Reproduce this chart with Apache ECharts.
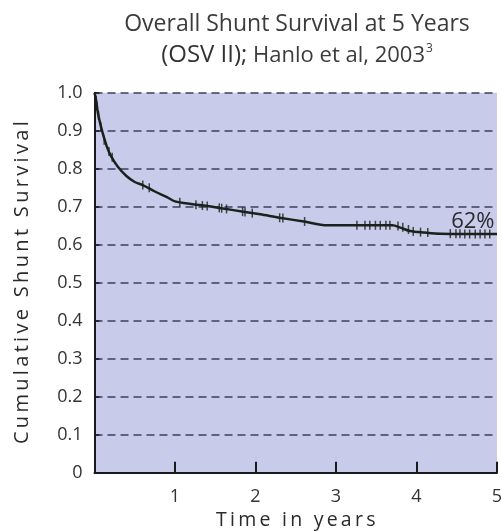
<!DOCTYPE html>
<html>
<head>
<meta charset="utf-8">
<script src="https://cdn.jsdelivr.net/npm/echarts@6/dist/echarts.min.js"></script>
<style>html,body{margin:0;padding:0;background:#fff;}#c{width:502px;height:532px;}</style>
</head>
<body>
<div id="c"></div>
<script>
// Kaplan-Meier curve
const times =    [0, 0.02, 0.04, 0.07, 0.10, 0.15, 0.20, 0.29, 0.40, 0.50, 0.60, 0.75, 0.90, 1.00, 1.20, 1.40, 1.60, 1.85, 2.06, 2.30, 2.60, 2.89, 3.20, 3.70, 3.80, 3.92, 4.10, 4.30, 5.00];
const survival = [1.0, 0.98, 0.95, 0.92, 0.895, 0.86, 0.835, 0.805, 0.78, 0.765, 0.757, 0.74, 0.725, 0.714, 0.707, 0.702, 0.695, 0.687, 0.68, 0.671, 0.661, 0.651, 0.651, 0.651, 0.645, 0.636, 0.632, 0.629, 0.628];
// censor marks (time, survival)
const censorTimes =  [0.01, 0.02, 0.03, 0.05, 0.08, 0.12, 0.18, 0.22, 0.60, 0.68, 1.06, 1.26, 1.34, 1.40, 1.55, 1.58, 1.64, 1.84, 1.87, 1.96, 2.30, 2.34, 2.61, 3.26, 3.36, 3.42, 3.49, 3.55, 3.62, 3.67, 3.77, 3.83, 3.90, 3.96, 4.05, 4.14, 4.42, 4.49, 4.54, 4.60, 4.66, 4.73, 4.79, 4.85, 4.91];
const censorSurv =   [0.99, 0.98, 0.965, 0.94, 0.91, 0.875, 0.845, 0.83, 0.757, 0.75, 0.712, 0.705, 0.703, 0.702, 0.697, 0.696, 0.694, 0.687, 0.686, 0.683, 0.671, 0.670, 0.661, 0.651, 0.651, 0.651, 0.651, 0.651, 0.651, 0.651, 0.649, 0.646, 0.640, 0.635, 0.633, 0.632, 0.629, 0.629, 0.629, 0.628, 0.628, 0.628, 0.628, 0.628, 0.628];
const xTicks = [0, 1, 2, 3, 4, 5];
const yTicks = [0, 0.1, 0.2, 0.3, 0.4, 0.5, 0.6, 0.7, 0.8, 0.9, 1.0];
const titleLine1 = 'Overall Shunt Survival at 5 Years';
const titleLine2a = '(OSV II);';
const titleLine2b = ' Hanlo et al, 2003';
const titleSup = '3';
const endLabel = '62%';
const xName = 'Time in years';
const yName = 'Cumulative Shunt Survival';

// spread letters (reference uses wide letter spacing)
const spaced = s => s.split('').join('\u2009');

const chart = echarts.init(document.getElementById('c'), null, {renderer: 'canvas'});
const FONT = 'Open Sans';
chart.setOption({
  animation: false,
  backgroundColor: '#ffffff',
  title: {
    text: '{t|' + titleLine1 + '}\n{o|' + titleLine2a + '}{h|' + titleLine2b + '}{s|' + titleSup + '}',
    left: 292, top: 4, textAlign: 'center',
    textStyle: {
      fontWeight: 'normal',
      rich: {
        t: {fontFamily: FONT, fontSize: 23, fontWeight: 'normal', color: '#3c3c3c', lineHeight: 31},
        o: {fontFamily: FONT, fontSize: 24, fontWeight: 'normal', color: '#333', lineHeight: 31},
        h: {fontFamily: FONT, fontSize: 22, fontWeight: 'normal', color: '#3c3c3c', lineHeight: 31},
        s: {fontFamily: FONT, fontSize: 12, fontWeight: 'normal', color: '#3c3c3c', lineHeight: 31, padding: [0, 0, 14, 1]}
      }
    }
  },
  grid: {left: 94.5, right: 5, top: 92.7, bottom: 59.3, show: true, backgroundColor: '#c8cbe9', borderWidth: 0,
         containLabel: false, outerBoundsMode: 'none'},
  xAxis: {
    type: 'value', min: 0, max: 5, interval: 1,
    name: spaced(xName), nameLocation: 'middle', nameGap: 27,
    nameTextStyle: {fontFamily: FONT, fontSize: 19.5, color: '#2a2a2a'},
    axisLine: {lineStyle: {color: '#1a1a1a', width: 2}},
    axisTick: {inside: true, length: 11, lineStyle: {color: '#1a1a1a', width: 2}},
    axisLabel: {fontFamily: FONT, fontSize: 18, color: '#333', margin: 15,
      formatter: v => (v === 0 ? '' : String(v))},
    splitLine: {show: false}
  },
  yAxis: {
    type: 'value', min: 0, max: 1, interval: 0.1,
    name: spaced(yName), nameLocation: 'middle', nameGap: 62, nameRotate: 90,
    nameTextStyle: {fontFamily: FONT, fontSize: 20, color: '#2a2a2a'},
    axisLine: {lineStyle: {color: '#1a1a1a', width: 2}},
    axisTick: {inside: true, length: 5, lineStyle: {color: '#1a1a1a', width: 1.5}},
    axisLabel: {fontFamily: FONT, fontSize: 18, color: '#333', margin: 12,
      formatter: v => (v === 0 ? '0' : v.toFixed(1))},
    splitLine: {show: true, lineStyle: {color: '#3d4160', width: 1.5, type: [8, 5]}}
  },
  series: [
    {
      type: 'line', data: times.map((t, i) => [t, survival[i]]),
      symbol: 'none', smooth: 0.3,
      lineStyle: {color: '#1c211c', width: 2.5},
      markPoint: {
        symbol: 'rect', symbolSize: 0,
        data: [{coord: [4.7, 0.66], value: endLabel}],
        label: {show: true, formatter: endLabel, fontFamily: FONT, fontSize: 22, color: '#2a2a2a'}
      },
      z: 3
    },
    {
      type: 'scatter', data: censorTimes.map((t, i) => [t, censorSurv[i]]),
      symbol: 'rect', symbolSize: [1.5, 9],
      itemStyle: {color: '#1c211c'}, z: 4
    }
  ]
});
</script>
</body>
</html>
